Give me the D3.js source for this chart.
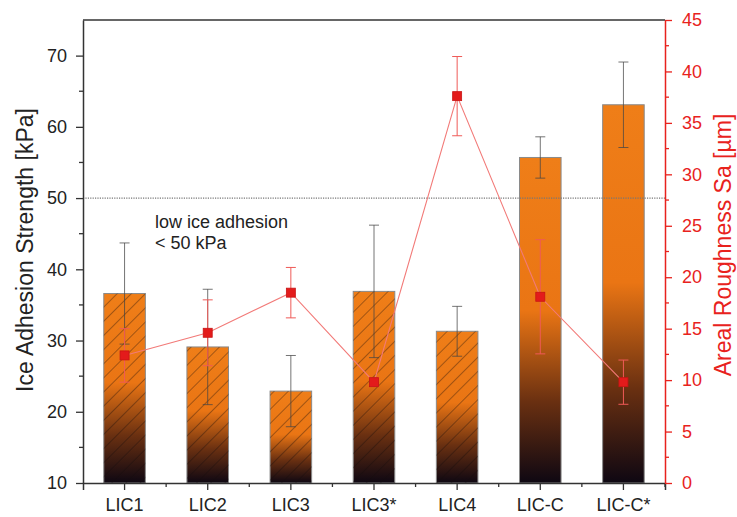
<!DOCTYPE html>
<html>
<head>
<meta charset="utf-8">
<script src="https://cdn.jsdelivr.net/npm/d3@7"></script>
<style>
  body { margin: 0; background: #fff; }
  text { font-family: "Liberation Sans", Arial, sans-serif; }
</style>
</head>
<body>
<div id="chart"></div>
<script>
// data
const categories = ["LIC1", "LIC2", "LIC3", "LIC3*", "LIC4", "LIC-C", "LIC-C*"];
const adhesion = [36.6, 29.1, 22.9, 36.9, 31.3, 55.7, 63.1];
const adhesionErr = [7.1, 8.1, 5.0, 9.3, 3.5, 2.9, 6.0];
const hatched = [true, true, true, true, true, false, false];
const roughness = [12.4, 14.6, 18.5, 9.8, 37.6, 18.1, 9.8];
const roughnessErr = [2.6, 3.2, 2.45, 0.4, 3.85, 5.55, 2.15];
const leftTicks = [10, 20, 30, 40, 50, 60, 70];
const rightTicks = [0, 5, 10, 15, 20, 25, 30, 35, 40, 45];
const threshold = 50;

const width = 737, height = 517;
const margin = { top: 20, right: 72, bottom: 34, left: 83 };
const red = "#e8221d";
const axisColor = "#333";
const tickFont = "18px";

const svg = d3.select("#chart")
  .append("svg")
  .attr("width", width)
  .attr("height", height);

const x = d3.scaleBand()
  .domain(categories)
  .range([margin.left, width - margin.right])
  .padding(0);

const y = d3.scaleLinear()
  .domain([10, 75])
  .range([height - margin.bottom, margin.top]);

const y2 = d3.scaleLinear()
  .domain([0, 45])
  .range([height - margin.bottom, margin.top]);

const defs = svg.append("defs");

// orange -> almost black, per bar
const grad = defs.append("linearGradient")
  .attr("id", "barGrad")
  .attr("x1", 0).attr("y1", 0).attr("x2", 0).attr("y2", 1);
grad.append("stop").attr("offset", "0").attr("stop-color", "#ef7e18");
grad.append("stop").attr("offset", "0.47").attr("stop-color", "#ea7514");
grad.append("stop").attr("offset", "0.75").attr("stop-color", "#6a3011");
grad.append("stop").attr("offset", "1").attr("stop-color", "#0e0712");

const hatch = defs.append("pattern")
  .attr("id", "hatch")
  .attr("patternUnits", "userSpaceOnUse")
  .attr("width", 10)
  .attr("height", 10)
  .attr("patternTransform", "rotate(45)");
hatch.append("line")
  .attr("x1", 0).attr("y1", 0).attr("x2", 0).attr("y2", 10)
  .attr("stroke", "rgba(20,10,10,0.7)")
  .attr("stroke-width", 1);

const barW = x.bandwidth() * 0.5;
const cx = (d) => x(d) + x.bandwidth() / 2;

// bars
const bars = svg.append("g");
categories.forEach((c, i) => {
  bars.append("rect")
    .attr("x", cx(c) - barW / 2)
    .attr("y", y(adhesion[i]))
    .attr("width", barW)
    .attr("height", y(10) - y(adhesion[i]))
    .attr("fill", "url(#barGrad)")
    .attr("stroke", "#8a8a8a")
    .attr("stroke-width", 1);
  if (hatched[i]) {
    bars.append("rect")
      .attr("x", cx(c) - barW / 2)
      .attr("y", y(adhesion[i]))
      .attr("width", barW)
      .attr("height", y(10) - y(adhesion[i]))
      .attr("fill", "url(#hatch)");
  }
});

// threshold line
svg.append("line")
  .attr("x1", margin.left)
  .attr("x2", width - margin.right)
  .attr("y1", y(threshold))
  .attr("y2", y(threshold))
  .attr("stroke", "#777")
  .attr("stroke-width", 1.2)
  .attr("stroke-dasharray", "1.2,1.2");

svg.append("text")
  .attr("x", 155)
  .attr("y", 228)
  .attr("font-size", "18px")
  .attr("fill", "#222")
  .text("low ice adhesion");
svg.append("text")
  .attr("x", 155)
  .attr("y", 249)
  .attr("font-size", "18px")
  .attr("fill", "#222")
  .text("< 50 kPa");

// bar error bars
const errG = svg.append("g")
  .attr("stroke", "rgba(70,70,70,0.75)")
  .attr("stroke-width", 1);
categories.forEach((c, i) => {
  const hi = y(adhesion[i] + adhesionErr[i]);
  const lo = y(adhesion[i] - adhesionErr[i]);
  errG.append("line").attr("x1", cx(c)).attr("x2", cx(c)).attr("y1", hi).attr("y2", lo);
  errG.append("line").attr("x1", cx(c) - 5).attr("x2", cx(c) + 5).attr("y1", hi).attr("y2", hi);
  errG.append("line").attr("x1", cx(c) - 5).attr("x2", cx(c) + 5).attr("y1", lo).attr("y2", lo);
});

// roughness line
const line = d3.line()
  .x((d, i) => cx(categories[i]))
  .y((d) => y2(d));

svg.append("path")
  .datum(roughness)
  .attr("d", line)
  .attr("fill", "none")
  .attr("stroke", "#f27a78")
  .attr("stroke-width", 1.1);

const rErr = svg.append("g")
  .attr("stroke", "#ef5a57")
  .attr("stroke-width", 1);
categories.forEach((c, i) => {
  const hi = y2(roughness[i] + roughnessErr[i]);
  const lo = y2(roughness[i] - roughnessErr[i]);
  rErr.append("line").attr("x1", cx(c)).attr("x2", cx(c)).attr("y1", hi).attr("y2", lo);
  rErr.append("line").attr("x1", cx(c) - 5).attr("x2", cx(c) + 5).attr("y1", hi).attr("y2", hi);
  rErr.append("line").attr("x1", cx(c) - 5).attr("x2", cx(c) + 5).attr("y1", lo).attr("y2", lo);
});

svg.append("g")
  .selectAll("rect")
  .data(roughness)
  .enter()
  .append("rect")
  .attr("x", (d, i) => cx(categories[i]) - 4.5)
  .attr("y", (d) => y2(d) - 4.5)
  .attr("width", 9)
  .attr("height", 9)
  .attr("fill", "#e31b1b")
  .attr("stroke", "#c81414")
  .attr("stroke-width", 0.8);

// axes
const bottom = height - margin.bottom;

const xAxis = svg.append("g")
  .attr("transform", `translate(0,${bottom})`)
  .call(d3.axisBottom(x).tickSize(7).tickPadding(8));
xAxis.select(".domain").attr("stroke", axisColor).attr("stroke-width", 1.5);
xAxis.selectAll(".tick line").attr("stroke", axisColor).attr("stroke-width", 1.3);
xAxis.selectAll("text").attr("font-size", tickFont).attr("fill", "#222");
// minor ticks between categories
xAxis.selectAll(".minor")
  .data(d3.range(1, categories.length + 1))
  .enter()
  .append("line")
  .attr("x1", (d) => margin.left + d * x.step())
  .attr("x2", (d) => margin.left + d * x.step())
  .attr("y1", 0)
  .attr("y2", 4)
  .attr("stroke", axisColor)
  .attr("stroke-width", 1.3);

const yAxis = svg.append("g")
  .attr("transform", `translate(${margin.left},0)`)
  .call(d3.axisLeft(y).tickValues(leftTicks).tickSize(7).tickPadding(9).tickSizeOuter(0));
yAxis.select(".domain").attr("stroke", axisColor).attr("stroke-width", 1.5);
yAxis.selectAll(".tick line").attr("stroke", axisColor).attr("stroke-width", 1.3);
yAxis.selectAll("text").attr("font-size", tickFont).attr("fill", "#222");
yAxis.selectAll(".minor")
  .data(d3.range(15, 75, 10))
  .enter()
  .append("line")
  .attr("x1", 0).attr("x2", -4)
  .attr("y1", (d) => y(d)).attr("y2", (d) => y(d))
  .attr("stroke", axisColor)
  .attr("stroke-width", 1.3);

const y2Axis = svg.append("g")
  .attr("transform", `translate(${width - margin.right},0)`)
  .call(d3.axisRight(y2).tickValues(rightTicks).tickSize(7).tickPadding(10).tickSizeOuter(0));
y2Axis.select(".domain").attr("stroke", red).attr("stroke-width", 1.5);
y2Axis.selectAll(".tick line").attr("stroke", red).attr("stroke-width", 1.3);
y2Axis.selectAll("text").attr("font-size", tickFont).attr("fill", red);
y2Axis.selectAll(".minor")
  .data(d3.range(2.5, 45, 5))
  .enter()
  .append("line")
  .attr("x1", 0).attr("x2", 4)
  .attr("y1", (d) => y2(d)).attr("y2", (d) => y2(d))
  .attr("stroke", red)
  .attr("stroke-width", 1.3);

// top frame
svg.append("line")
  .attr("x1", margin.left)
  .attr("x2", width - margin.right)
  .attr("y1", margin.top)
  .attr("y2", margin.top)
  .attr("stroke", axisColor)
  .attr("stroke-width", 1.5);

// axis titles
svg.append("text")
  .attr("transform", `translate(33,250) rotate(-90)`)
  .attr("text-anchor", "middle")
  .attr("font-size", "23px")
  .attr("fill", "#222")
  .text("Ice Adhesion Strength [kPa]");

svg.append("text")
  .attr("transform", `translate(731,245) rotate(-90)`)
  .attr("text-anchor", "middle")
  .attr("font-size", "23px")
  .attr("fill", red)
  .text("Areal Roughness Sa [µm]");
</script>
</body>
</html>
